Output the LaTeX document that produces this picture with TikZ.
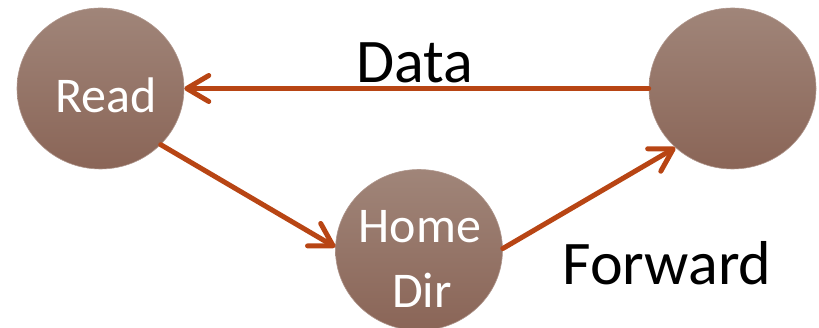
\documentclass[tikz,border=0pt]{standalone}
\usepackage{fontspec}
\setmainfont{Carlito}
\usetikzlibrary{arrows.meta,shapes.geometric}
\definecolor{nodetop}{RGB}{160,133,121}
\definecolor{nodebot}{RGB}{138,101,87}
\definecolor{nodeedge}{RGB}{175,150,140}
\definecolor{arrowc}{RGB}{184,69,20}
\tikzset{
  statenode/.style={ellipse, minimum width=167pt, minimum height=161pt, inner sep=0pt,
    top color=nodetop, bottom color=nodebot, draw=nodeedge, line width=0.6pt},
  inlabel/.style={anchor=base, text=white, font=\fontsize{50}{50}\selectfont, inner sep=0pt},
  edgelabel/.style={anchor=base, text=black, font=\fontsize{62}{62}\selectfont, inner sep=0pt},
  flow/.style={draw=arrowc, line width=5pt, line cap=round,
    -{Straight Barb[length=22pt, width=26pt, line width=5pt, line cap=round, round]}}
}
\begin{document}
\begin{tikzpicture}[x=1pt, y=-1pt]
\useasboundingbox (0,0) rectangle (819,328);
\clip (0,0) rectangle (819,328);
\node[statenode] (read) at (100.5,88.5) {};
\node[statenode] (fwd) at (732.5,88.5) {};
\node[statenode] (home) at (419,250) {};
\node[inlabel] (readt) at (106,113) {Read};
\node[inlabel] (homet) at (420,243) {Home};
\node[inlabel] (dirt) at (422,308) {Dir};
\node[edgelabel] (datat) at (415,83) {Data};
\node[edgelabel] (fwdt) at (667,285) {Forward};
\draw[flow] (fwd.west) -- (read.east);
\draw[flow] (read.-43) -- (home.178);
\draw[flow] (home.1) -- (fwd.226);
\end{tikzpicture}
\end{document}
